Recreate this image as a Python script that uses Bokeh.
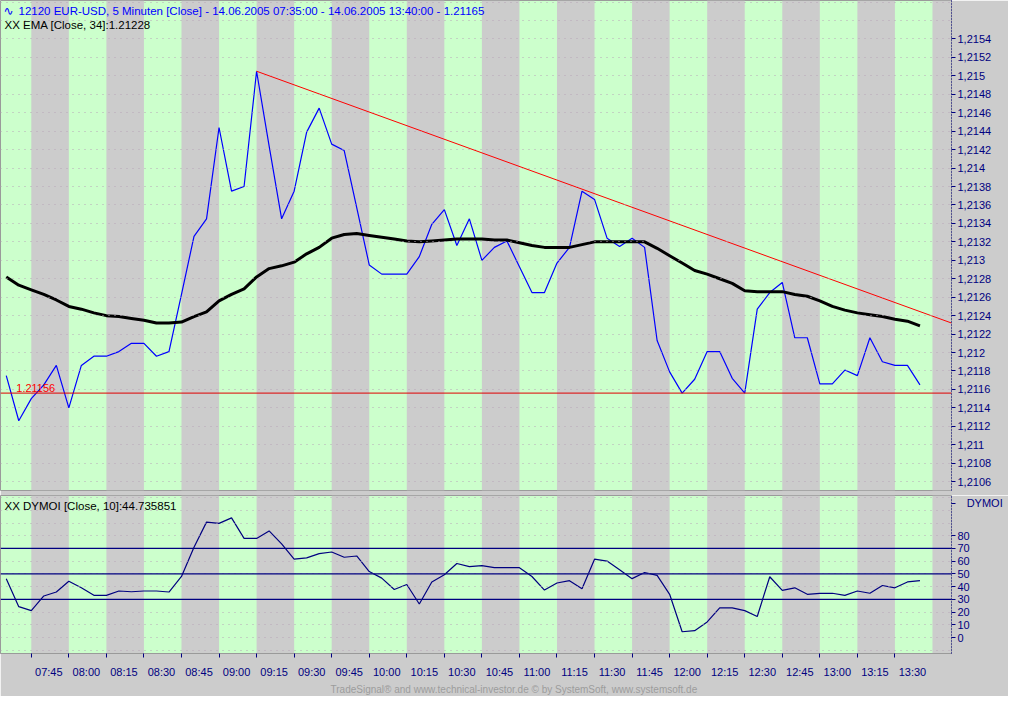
from bokeh.plotting import figure
from bokeh.models import (Range1d, FixedTicker, CustomJSTickFormatter, Label, Span,
                          ColumnDataSource, Title)
from bokeh.layouts import column
from bokeh.embed import file_html
from bokeh.resources import INLINE

# ---------------- data ----------------
BAR = list(range(74))  # 5-minute bars, 07:35 ... 13:40

CLOSE = [1.21175, 1.21126, 1.21150, 1.21165, 1.21186, 1.21140, 1.21186, 1.21196, 1.21196, 1.21201,
         1.21210, 1.21210, 1.21196, 1.21201, 1.21263, 1.21326, 1.21345, 1.21444, 1.21375, 1.21380,
         1.21505, 1.21424, 1.21345, 1.21375, 1.21439, 1.21465, 1.21426, 1.21419, 1.21357, 1.21295,
         1.21285, 1.21285, 1.21285, 1.21304, 1.21339, 1.21355, 1.21316, 1.21345, 1.21300, 1.21314,
         1.21321, 1.21293, 1.21265, 1.21265, 1.21297, 1.21314, 1.21375, 1.21366, 1.21324, 1.21315,
         1.21324, 1.21314, 1.21213, 1.21179, 1.21156, 1.21171, 1.21201, 1.21201, 1.21172, 1.21156,
         1.21247, 1.21265, 1.21276, 1.21216, 1.21216, 1.21166, 1.21166, 1.21181, 1.21175, 1.21216,
         1.21190, 1.21186, 1.21186, 1.21165]

EMA = [1.21282, 1.21273, 1.21268, 1.21263, 1.21257, 1.21250, 1.21247, 1.21243, 1.21240, 1.21239,
       1.21237, 1.21235, 1.21232, 1.21232, 1.21233, 1.21239, 1.21244, 1.21256, 1.21263, 1.21269,
       1.21282, 1.21291, 1.21294, 1.21298, 1.21307, 1.21314, 1.21324, 1.21328, 1.21329, 1.21327,
       1.21325, 1.21323, 1.21321, 1.21320, 1.21321, 1.21322, 1.21323, 1.21323, 1.21323, 1.21322,
       1.21322, 1.21319, 1.21316, 1.21314, 1.21314, 1.21314, 1.21317, 1.21320, 1.21320, 1.21320,
       1.21320, 1.21320, 1.21313, 1.21305, 1.21297, 1.21289, 1.21285, 1.21280, 1.21275, 1.21267,
       1.21266, 1.21266, 1.21266, 1.21263, 1.21261, 1.21256, 1.21250, 1.21246, 1.21243, 1.21241,
       1.21239, 1.21236, 1.21234, 1.21229]

DYMOI = [46.3, 24.3, 21.2, 32.7, 35.8, 44.2, 39.1, 33.2, 33.2, 36.6,
         36.0, 36.6, 36.6, 35.8, 48.0, 71.0, 90.7, 89.7, 94.0, 77.9,
         77.9, 83.8, 73.6, 61.6, 62.6, 65.9, 67.2, 63.1, 64.1, 51.9,
         46.7, 37.8, 41.7, 26.4, 43.7, 49.3, 58.2, 55.7, 56.5, 54.9,
         54.9, 54.9, 48.0, 37.3, 42.9, 44.7, 38.3, 61.6, 60.1, 53.2,
         46.3, 51.1, 48.8, 34.0, 4.6, 5.4, 12.3, 23.3, 23.3, 21.2,
         16.6, 47.8, 37.1, 39.1, 34.0, 34.8, 34.8, 33.2, 36.6, 34.8,
         40.9, 39.1, 43.7, 44.7]

TICK_BARS = [2, 5, 8, 11, 14, 17, 20, 23, 26, 29, 32, 35, 38, 41, 44, 47, 50, 53, 56, 59, 62, 65, 68, 71]
TIME_LABELS = ["07:45", "08:00", "08:15", "08:30", "08:45", "09:00", "09:15", "09:30", "09:45", "10:00",
               "10:15", "10:30", "10:45", "11:00", "11:15", "11:30", "11:45", "12:00", "12:15", "12:30",
               "12:45", "13:00", "13:15", "13:30"]

PRICE_TICKS = [1.2106, 1.2108, 1.2110, 1.2112, 1.2114, 1.2116, 1.2118, 1.2120, 1.2122, 1.2124, 1.2126,
               1.2128, 1.2130, 1.2132, 1.2134, 1.2136, 1.2138, 1.2140, 1.2142, 1.2144, 1.2146, 1.2148,
               1.2150, 1.2152, 1.2154]
PRICE_GRID = [1.2104] + PRICE_TICKS + [1.2156, 1.2158]
DYMOI_TICKS = [0, 10, 20, 30, 40, 50, 60, 70, 80]
DYMOI_GRID = [-10] + DYMOI_TICKS + [90, 100, 110]
DYMOI_LEVELS = [30, 50, 70]

SUPPORT = 1.21156
TREND_X = [20, 75.52]
TREND_Y = [1.21505, 1.21232]

TITLE = "12120  EUR-USD, 5 Minuten [Close] - 14.06.2005 07:35:00 - 14.06.2005 13:40:00 - 1.21165"
EMA_TITLE = "XX EMA [Close, 34]:1.21228"
DYMOI_TITLE = "XX DYMOI [Close, 10]:44.735851"
DYMOI_NAME = "DYMOI"
FOOTER = "TradeSignal\u00ae and www.technical-investor.de \u00a9 by  SystemSoft, www.systemsoft.de"

# ---------------- style ----------------
GREEN = "#ccffcc"
GRAY = "#cccccc"
NAVY = "#000080"
FONT = "Liberation Sans"
X0, X1 = -0.46, 75.52
W = 1008
RB = 57
H1_FRAME = 490
H2_FRAME = 158

# band edges: gray bands start at 07:45, alternate every 15 minutes
edges = TICK_BARS + [74, 77]
gl, gr = [], []
for k in range(0, len(edges) - 1, 2):
    gl.append(edges[k])
    gr.append(min(edges[k + 1], X1))


def base_fig(height, y0, y1, border_bottom, with_x):
    p = figure(width=W, height=height, x_range=Range1d(X0, X1), y_range=Range1d(y0, y1),
               output_backend="svg", toolbar_location=None, y_axis_location="right",
               x_axis_location="below" if with_x else None,
               min_border_left=0, min_border_right=RB, min_border_top=0,
               min_border_bottom=border_bottom)
    p.background_fill_color = GREEN
    p.border_fill_color = GRAY
    p.outline_line_color = "#9a9a9a"
    p.xgrid.visible = False
    p.quad(left=gl, right=gr, bottom=y0, top=y1, fill_color=GRAY, line_color=None)
    p.ygrid.grid_line_color = "#b9a6b9"
    p.ygrid.grid_line_dash = "1 5"
    p.ygrid.level = "glyph"
    ax = p.yaxis[0]
    ax.axis_line_color = NAVY
    ax.axis_line_dash = "1 2"
    ax.major_tick_out = 4
    ax.major_tick_in = 0
    ax.major_tick_line_color = NAVY
    ax.minor_tick_line_color = None
    ax.major_label_standoff = 2
    ax.major_label_text_color = NAVY
    ax.major_label_text_font = FONT
    ax.major_label_text_font_size = "11px"
    return p


# ---------------- main price panel ----------------
P_Y0, P_Y1 = 1.210504, 1.215817
p1 = base_fig(H1_FRAME + 5, P_Y0, P_Y1, 5, False)
p1.yaxis[0].ticker = FixedTicker(ticks=PRICE_TICKS)
p1.yaxis[0].formatter = CustomJSTickFormatter(
    code="return tick.toFixed(4).replace(/0+$/, '').replace('.', ',');")
p1.ygrid.ticker = FixedTicker(ticks=PRICE_GRID)

src = ColumnDataSource(dict(x=BAR, close=CLOSE, ema=EMA))
p1.add_layout(Span(location=SUPPORT, dimension="width", line_color="#e00000", line_width=1))
p1.line("x", "close", source=src, line_color="#0000ff", line_width=1.2)
p1.line("x", "ema", source=src, line_color="black", line_width=3)
p1.line(TREND_X, TREND_Y, line_color="#ff0000", line_width=1)

p1.add_layout(Label(x=0.8, y=SUPPORT, text="1.21156", text_color="#ff0000", text_font=FONT,
                    text_font_size="11px", text_baseline="bottom", y_offset=1))
p1.add_layout(Label(x=3, y=H1_FRAME - 10, x_units="screen", y_units="screen", text="\u223f",
                    text_color="#0000ff", text_font="DejaVu Sans", text_font_size="12px",
                    text_baseline="middle"))
p1.add_layout(Label(x=18, y=H1_FRAME - 10, x_units="screen", y_units="screen", text=TITLE,
                    text_color="#0000ff", text_font=FONT, text_font_size="11.5px",
                    text_baseline="middle"))
p1.add_layout(Label(x=4, y=H1_FRAME - 24, x_units="screen", y_units="screen", text=EMA_TITLE,
                    text_color="black", text_font=FONT, text_font_size="11.5px",
                    text_baseline="middle"))

# ---------------- DYMOI panel ----------------
D_Y0, D_Y1 = -12.5, 111.6
NAME_POS = 105.5
p2 = base_fig(H2_FRAME + 43, D_Y0, D_Y1, 43, True)
p2.yaxis[0].ticker = FixedTicker(ticks=DYMOI_TICKS + [NAME_POS])
p2.yaxis[0].major_label_overrides = {NAME_POS: "\u00a0\u00a0\u00a0" + DYMOI_NAME}
p2.ygrid.ticker = FixedTicker(ticks=DYMOI_GRID)
for lv in DYMOI_LEVELS:
    p2.add_layout(Span(location=lv, dimension="width", line_color=NAVY, line_width=1.2))
p2.line(BAR, DYMOI, line_color=NAVY, line_width=1.2)

lab_pos = [t + 1.4 for t in TICK_BARS]
xa = p2.xaxis[0]
xa.ticker = FixedTicker(ticks=lab_pos, minor_ticks=TICK_BARS)
xa.major_label_overrides = {pos: lab for pos, lab in zip(lab_pos, TIME_LABELS)}
xa.major_tick_out = 0
xa.major_tick_in = 0
xa.minor_tick_out = 4
xa.minor_tick_in = 0
xa.minor_tick_line_color = NAVY
xa.axis_line_color = "#9a9a9a"
xa.major_label_standoff = 8
xa.major_label_text_color = NAVY
xa.major_label_text_font = FONT
xa.major_label_text_font_size = "11px"

p2.add_layout(Label(x=4, y=H2_FRAME - 10, x_units="screen", y_units="screen", text=DYMOI_TITLE,
                    text_color="black", text_font=FONT, text_font_size="11.5px",
                    text_baseline="middle"))
p2.add_layout(Title(text=FOOTER, align="left", text_color="#9c9c9c", text_font=FONT,
                    text_font_size="10px", text_font_style="normal", standoff=2, offset=330),
              "below")

layout = column(p1, p2, spacing=0)
open("out.html", "w").write(file_html(layout, INLINE))
